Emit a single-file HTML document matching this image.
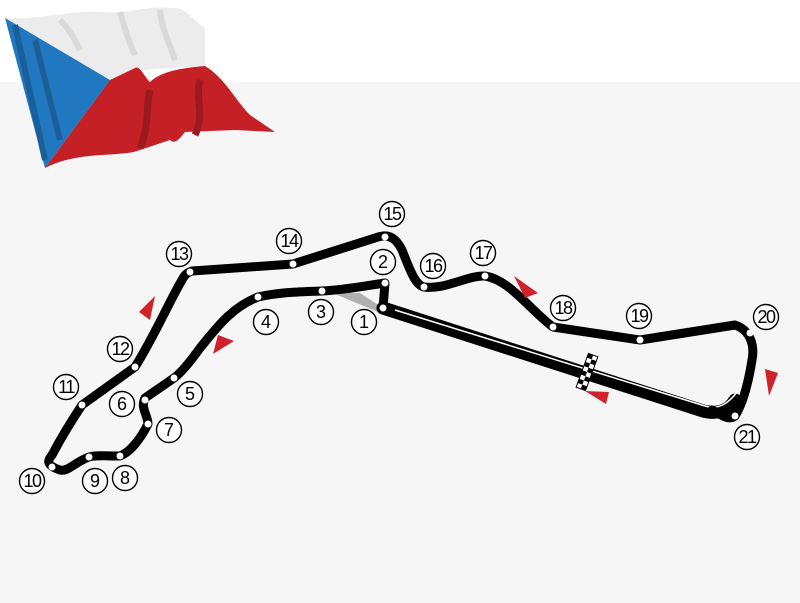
<!DOCTYPE html>
<html><head><style>
body{margin:0;width:800px;height:598px;overflow:hidden;background:#f6f6f6;font-family:"Liberation Sans",sans-serif}
</style></head><body>
<svg width="800" height="598" viewBox="0 0 800 598" xmlns="http://www.w3.org/2000/svg">
<rect x="0" y="0" width="800" height="82" fill="#fff"/>
<rect x="0" y="82" width="800" height="516" fill="#f6f6f6"/>
<!-- flag -->
<path d="M5,18 C40,20 70,10 100,12 C130,14 150,5 170,8 C185,6 190,18 205,28 L205,66 L140,70 L110,80 Z" fill="#ececec"/>
<path d="M60,20 C70,30 75,40 80,50 M120,12 C125,30 130,45 135,55 M160,10 C162,30 170,45 175,60" stroke="#d4d4d4" stroke-width="6" fill="none" opacity="0.8"/>
<path d="M5,18 L110,80 L45,168 Z" fill="#1f78c0"/>
<path d="M15,25 L45,160 M35,40 L60,140" stroke="#1a5f98" stroke-width="6" fill="none"/>
<path d="M110,80 L135,68 C140,65 145,78 150,82 C160,72 180,68 205,66 C225,78 235,100 250,115 L275,132 L235,130 L185,132 C180,138 175,145 170,140 L140,150 C120,158 80,150 45,168 Z" fill="#c42026"/>
<path d="M150,90 C145,110 150,125 140,148 M200,80 C195,100 205,115 195,135" stroke="#9a1a1e" stroke-width="7" fill="none"/>
<!-- gray patch -->
<path d="M330,292 L360,293 L383,308 L378,312 Z" fill="#b0b0b0"/>
<!-- main straight -->
<path d="M383,308 L700,410 C715,415 728,412 735,400" stroke="#000" stroke-width="13" fill="none" stroke-linecap="round"/>
<path d="M395,310 L705,406 C718,410 728,404 737,392" stroke="#fff" stroke-width="1.5" fill="none"/>
<!-- circuit -->
<path d="M383,308 L385,283 C370,285 345,290 322,291 C300,292 280,292 258,297 C230,308 215,330 200,348 C190,362 182,372 174,378 L145,398 C140,408 148,415 148,424 C140,440 130,452 120,456 C105,456 95,455 89,457 C75,462 68,472 60,470 C45,465 48,460 52,455 C60,440 72,420 82,405 L135,367 C155,335 170,300 182,280 C186,272 190,272 192,271 L293,264 L375,238 C390,232 397,240 402,250 C410,270 415,285 424,287 C445,290 468,275 485,276 C510,280 530,310 553,327 L640,340 L735,325 C750,330 755,345 752,360 C748,385 742,405 735,416 C728,422 718,412 712,410" stroke="#000" stroke-width="9" fill="none" stroke-linejoin="round" stroke-linecap="round"/>
<g fill="#fff">
<circle cx="383" cy="308" r="3.5"/><circle cx="385" cy="283" r="3.5"/><circle cx="322" cy="291" r="3.5"/><circle cx="258" cy="297" r="3.5"/><circle cx="174" cy="378" r="3.5"/><circle cx="145" cy="400" r="3.5"/><circle cx="148" cy="424" r="3.5"/><circle cx="120" cy="456" r="3.5"/><circle cx="89" cy="457" r="3.5"/><circle cx="52" cy="467" r="3.5"/><circle cx="82" cy="405" r="3.5"/><circle cx="135" cy="367" r="3.5"/><circle cx="190" cy="272" r="3.5"/><circle cx="293" cy="264" r="3.5"/><circle cx="385" cy="237" r="3.5"/><circle cx="424" cy="287" r="3.5"/><circle cx="485" cy="276" r="3.5"/><circle cx="553" cy="327" r="3.5"/><circle cx="640" cy="340" r="3.5"/><circle cx="750" cy="333" r="3.5"/><circle cx="735" cy="416" r="3.5"/>
</g>
<g transform="translate(587,372) rotate(20)">
<rect x="-5" y="-18" width="10" height="36" fill="#fff" stroke="#000" stroke-width="1"/>
<g fill="#000">
<rect x="-5" y="-18" width="5" height="4.5"/><rect x="0" y="-13.5" width="5" height="4.5"/><rect x="-5" y="-9" width="5" height="4.5"/><rect x="0" y="-4.5" width="5" height="4.5"/><rect x="-5" y="0" width="5" height="4.5"/><rect x="0" y="4.5" width="5" height="4.5"/><rect x="-5" y="9" width="5" height="4.5"/><rect x="0" y="13.5" width="5" height="4.5"/>
</g></g>
<g fill="#d0222a">
<polygon points="155,296 150,320 139,312"/>
<polygon points="234,341 213,354 218,335"/>
<polygon points="514,276 538,293 525,298"/>
<polygon points="585,391 609,392 606,404"/>
<polygon points="765,369 778,373 769,396"/>
</g>
<g fill="#fff" stroke="#000" stroke-width="1.4">
<circle cx="364" cy="322" r="12.5"/><circle cx="383" cy="262" r="12.5"/><circle cx="321" cy="312" r="12.5"/><circle cx="266" cy="322" r="12.5"/><circle cx="190" cy="394" r="12.5"/><circle cx="122" cy="404" r="12.5"/><circle cx="169" cy="430" r="12.5"/><circle cx="125" cy="478" r="12.5"/><circle cx="95" cy="481" r="12.5"/><circle cx="32" cy="481" r="12.5"/><circle cx="66" cy="387" r="12.5"/><circle cx="120" cy="349" r="12.5"/><circle cx="179" cy="254" r="12.5"/><circle cx="289" cy="241" r="12.5"/><circle cx="392" cy="214" r="12.5"/><circle cx="433" cy="266" r="12.5"/><circle cx="483" cy="253" r="12.5"/><circle cx="563" cy="308" r="12.5"/><circle cx="639" cy="316" r="12.5"/><circle cx="766" cy="317" r="12.5"/><circle cx="747" cy="437" r="12.5"/>
</g>
<g font-size="18" text-anchor="middle" fill="#000" font-family="Liberation Sans,sans-serif">
<text x="364" y="328">1</text><text x="383" y="268">2</text><text x="321" y="318">3</text><text x="266" y="328">4</text><text x="190" y="400">5</text><text x="122" y="410">6</text><text x="169" y="436">7</text><text x="125" y="484">8</text><text x="95" y="487">9</text>
<g letter-spacing="-1.5"><text x="32" y="487">10</text><text x="66" y="393">11</text><text x="120" y="355">12</text><text x="179" y="260">13</text><text x="289" y="247">14</text><text x="392" y="220">15</text><text x="433" y="272">16</text><text x="483" y="259">17</text><text x="563" y="314">18</text><text x="639" y="322">19</text><text x="766" y="323">20</text><text x="747" y="443">21</text></g>
</g>
</svg>
</body></html>
